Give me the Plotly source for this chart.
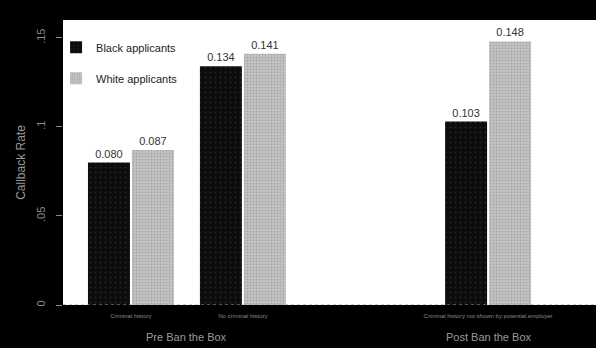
import plotly.graph_objects as go

categories = ["Criminal history", "No criminal history", "Criminal history not shown by potential employer"]
black_vals = [0.080, 0.134, 0.103]
white_vals = [0.087, 0.141, 0.148]
group_labels = ["Pre Ban the Box", "Post Ban the Box"]
ytick_vals = [0, 0.05, 0.1, 0.15]
ytick_text = ["0", ".05", ".1", ".15"]

# layout constants
xpos = [0, 1, 3.19]
bw = 0.375
XR = [-0.607, 4.154]
YR = [0, 0.16]
FONT = "Liberation Sans, Arial, sans-serif"

fig = go.Figure()
fig.add_trace(go.Bar(
    x=xpos, y=black_vals, name="Black applicants", legendgroup="a",
    width=bw, offset=-bw - 0.009,
    marker=dict(color="#0c0c0c", line=dict(width=0),
                pattern=dict(shape=".", fgcolor="#3a3a3a", size=5, solidity=0.15)),
    text=[f"{v:.3f}" for v in black_vals], textposition="outside",
    textfont=dict(size=11, color="#333333", family=FONT), cliponaxis=False,
))
fig.add_trace(go.Bar(
    x=xpos, y=white_vals, name="White applicants", legendgroup="b",
    width=bw, offset=0.009,
    marker=dict(color="#c4c4c4", line=dict(width=0),
                pattern=dict(shape=".", fgcolor="#8a8a8a", size=3, solidity=0.35)),
    text=[f"{v:.3f}" for v in white_vals], textposition="outside",
    textfont=dict(size=11, color="#333333", family=FONT), cliponaxis=False,
))

group_x = [(xpos[0] + xpos[1]) / 2, xpos[2]]
for gx, gl in zip(group_x, group_labels):
    fig.add_annotation(x=gx, y=-0.112, xref="x", yref="paper", yanchor="middle", text=gl,
                       showarrow=False, font=dict(size=11, color="#9a9a9a", family=FONT))

fig.update_layout(
    width=596, height=348,
    margin=dict(l=63, r=0, t=20, b=43),
    paper_bgcolor="#000000", plot_bgcolor="#ffffff",
    font=dict(family=FONT),
    barmode="overlay",
    showlegend=True,
    legend=dict(x=-0.013, y=0.955, xanchor="left", yanchor="top",
                bgcolor="rgba(255,255,255,0)", font=dict(size=11, color="#222222"),
                tracegroupgap=12),
    xaxis=dict(range=XR, tickvals=xpos, ticktext=categories,
               tickfont=dict(size=6, color="#8a8a8a"), showgrid=False, zeroline=False,
               ticks="", showline=False, ticklabelstandoff=6, fixedrange=True),
    yaxis=dict(range=YR, tickvals=ytick_vals, ticktext=ytick_text,
               tickangle=-90, tickfont=dict(size=11, color="#8a8a8a"),
               ticks="outside", ticklen=6, tickcolor="#8a8a8a", tickwidth=1,
               showgrid=False, zeroline=False, showline=False, ticklabelstandoff=7,
               fixedrange=True,
               title=dict(text="Callback Rate", font=dict(size=12, color="#9a9a9a"), standoff=6)),
)
fig.add_shape(type="line", xref="paper", yref="y", x0=0, x1=1, y0=0, y1=0,
              line=dict(color="#9a9a9a", width=1, dash="dot"))

post = """
document.body.style.margin = '0';
document.body.style.background = '#000';
"""
fig.write_html("out.html", post_script=post, config={"displayModeBar": False})
